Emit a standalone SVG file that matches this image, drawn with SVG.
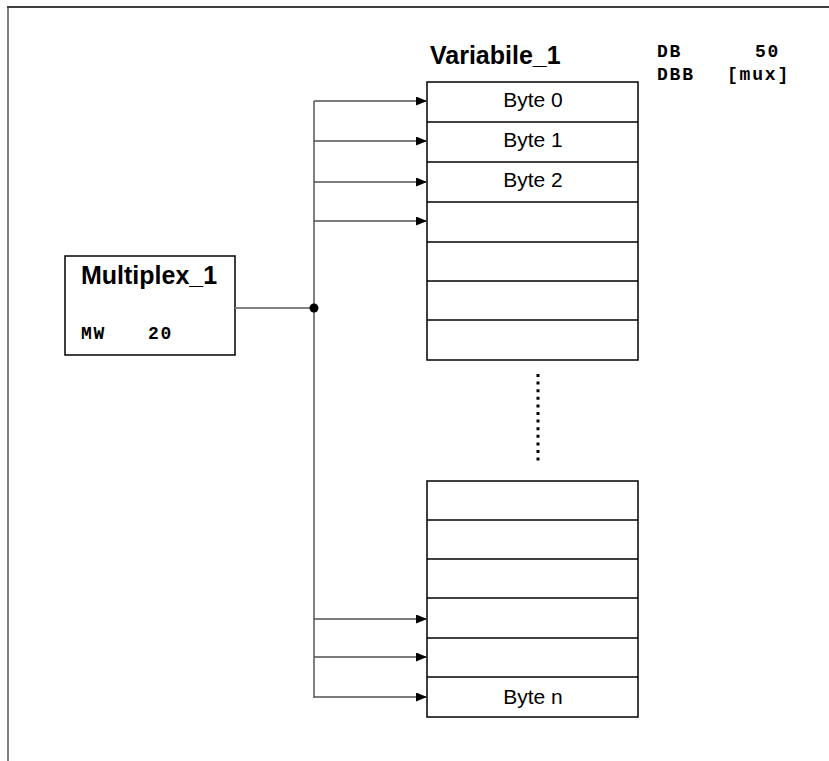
<svg xmlns="http://www.w3.org/2000/svg" width="829" height="761" viewBox="0 0 829 761">
<defs>
<style>
.frame{fill:none;stroke:#000;stroke-width:1.5}
.sep{stroke:#000;stroke-width:1.5}
.bus{stroke:#808080;stroke-width:2;fill:none}
.arr{stroke:#505050;stroke-width:1.5;fill:none;marker-end:url(#ah)}
.title{font-family:"Liberation Sans",Arial,sans-serif;font-weight:bold;font-size:25px;fill:#000}
.lbl{font-family:"Liberation Sans",Arial,sans-serif;font-size:21px;fill:#000;text-anchor:middle}
.mono{font-family:"Liberation Mono","Courier New",monospace;font-weight:bold;font-size:18px;letter-spacing:1.8px;fill:#000}
</style>
<marker id="ah" viewBox="0 0 11 9" refX="11" refY="4.5" markerWidth="11" markerHeight="9" markerUnits="userSpaceOnUse" orient="auto">
<path d="M0,0 L11,4.5 L0,9 Z" fill="#000"/>
</marker>
</defs>
<rect width="829" height="761" fill="#fff"/>
<g id="border">
<line x1="7" y1="7" x2="829" y2="7" stroke="#000" stroke-width="1.5"/>
<line x1="8" y1="8" x2="8" y2="761" stroke="#808080" stroke-width="2"/>
</g>
<g id="multiplex">
<rect class="frame" x="65" y="256" width="170" height="99" stroke="#333"/>
<text class="title" x="81" y="284">Multiplex_1</text>
<text class="mono" x="81" y="339">MW</text>
<text class="mono" x="148" y="339">20</text>
</g>
<g id="variabile-header">
<text class="title" x="430" y="64">Variabile_1</text>
<text class="mono" x="657" y="57">DB</text>
<text class="mono" x="755" y="57">50</text>
<text class="mono" x="657" y="80">DBB</text>
<text class="mono" x="727" y="80">[mux]</text>
</g>
<g id="table-upper">
<rect class="frame" x="427" y="82" width="211" height="278"/>
<line class="sep" x1="427" y1="122" x2="638" y2="122"/>
<line class="sep" x1="427" y1="162" x2="638" y2="162"/>
<line class="sep" x1="427" y1="202" x2="638" y2="202"/>
<line class="sep" x1="427" y1="242" x2="638" y2="242"/>
<line class="sep" x1="427" y1="281" x2="638" y2="281"/>
<line class="sep" x1="427" y1="320" x2="638" y2="320"/>
<text class="lbl" x="533" y="107">Byte 0</text>
<text class="lbl" x="533" y="147">Byte 1</text>
<text class="lbl" x="533" y="187">Byte 2</text>
</g>
<g id="ellipsis">
<line x1="538" y1="374" x2="538" y2="462" stroke="#000" stroke-width="3" stroke-dasharray="3 4.6"/>
</g>
<g id="table-lower">
<rect class="frame" x="427" y="481" width="211" height="236"/>
<line class="sep" x1="427" y1="520" x2="638" y2="520"/>
<line class="sep" x1="427" y1="559" x2="638" y2="559"/>
<line class="sep" x1="427" y1="598" x2="638" y2="598"/>
<line class="sep" x1="427" y1="638" x2="638" y2="638"/>
<line class="sep" x1="427" y1="677" x2="638" y2="677"/>
<text class="lbl" x="533" y="704">Byte n</text>
</g>
<g id="connectors">
<line class="bus" x1="314" y1="101" x2="314" y2="698"/>
<line class="bus" x1="235" y1="308" x2="314" y2="308"/>
<circle cx="314" cy="308" r="4.5" fill="#000"/>
<line class="arr" x1="314" y1="101" x2="427" y2="101"/>
<line class="arr" x1="314" y1="141" x2="427" y2="141"/>
<line class="arr" x1="314" y1="182" x2="427" y2="182"/>
<line class="arr" x1="314" y1="221" x2="427" y2="221"/>
<line class="arr" x1="314" y1="619" x2="427" y2="619"/>
<line class="arr" x1="314" y1="657" x2="427" y2="657"/>
<line class="arr" x1="314" y1="697" x2="427" y2="697"/>
</g>
</svg>
